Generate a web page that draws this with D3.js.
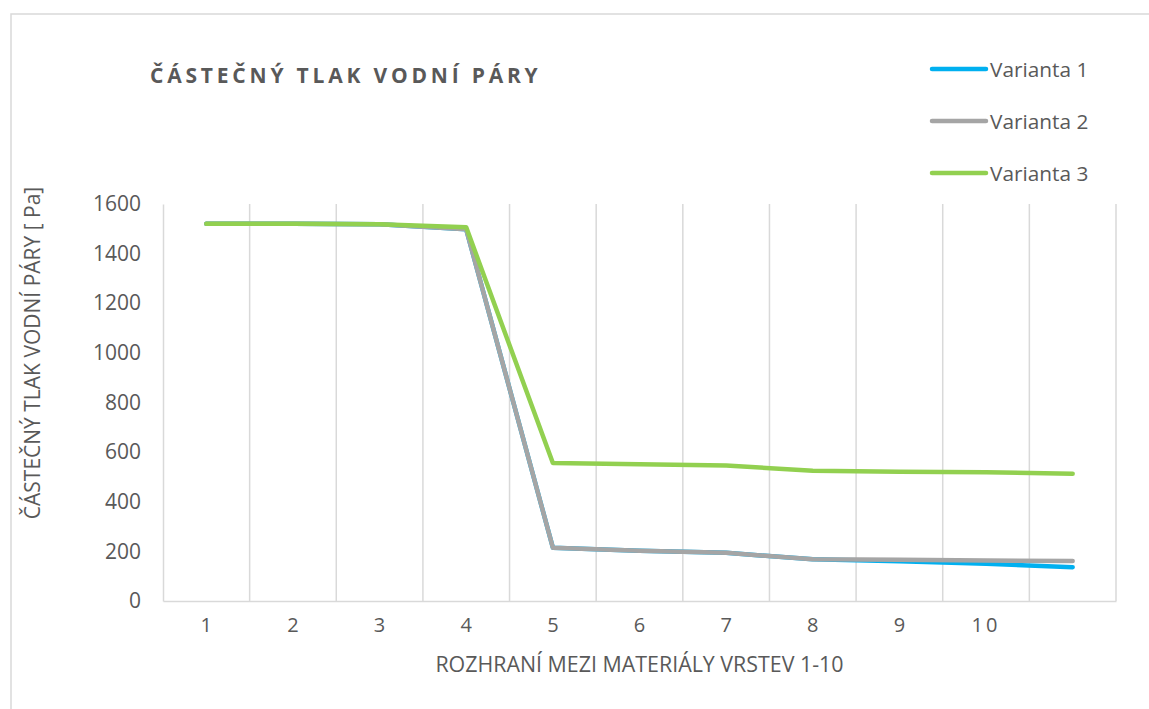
<!DOCTYPE html>
<html lang="cs">
<head>
<meta charset="UTF-8">
<title>Částečný tlak vodní páry</title>
<script src="https://d3js.org/d3.v7.min.js"></script>
<style>
    html, body {
        margin: 0;
        padding: 0;
        background: #fff;
    }
    svg text {
        font-family: "Open Sans", "Noto Sans", sans-serif;
        fill: #595959;
    }
</style>
</head>
<body>
<svg id="chart" width="1149" height="709"></svg>
<script>
    // rozhraní 1-10 + poslední bod bez popisku
    const categories = [1, 2, 3, 4, 5, 6, 7, 8, 9, 10, 11];
    const tickLabels = ["1", "2", "3", "4", "5", "6", "7", "8", "9", "10", ""];
    const yTicks = [0, 200, 400, 600, 800, 1000, 1200, 1400, 1600];

    const varianta1 = [1520, 1520, 1518, 1498, 215, 203, 194, 168, 160, 150, 136];
    const varianta2 = [1520, 1520, 1518, 1498, 215, 203, 194, 168, 166, 163, 161];
    const varianta3 = [1520, 1520, 1518, 1506, 556, 551, 546, 525, 521, 519, 513];

    const seriesNames = ["Varianta 1", "Varianta 2", "Varianta 3"];
    const seriesData = [varianta1, varianta2, varianta3];
    const colors = ["#00B0F0", "#A5A5A5", "#92D050"];

    const svg = d3.select("#chart");
    const plotL = 163, plotR = 1116, plotT = 204, plotB = 601;

    // rámeček grafu
    svg.append("rect")
        .attr("x", 11).attr("y", 14)
        .attr("width", 1300).attr("height", 900)
        .attr("fill", "none")
        .attr("stroke", "#D9D9D9")
        .attr("stroke-width", 1.5);

    const x = d3.scaleBand().domain(categories).range([plotL, plotR]).padding(0);
    const y = d3.scaleLinear().domain([0, 1600]).range([plotB, plotT]);

    // svislé mřížky
    const grid = svg.append("g");
    grid.selectAll("line")
        .data(categories.slice(1))
        .join("line")
        .attr("x1", d => x(d)).attr("x2", d => x(d))
        .attr("y1", plotT).attr("y2", plotB)
        .attr("stroke", "#D9D9D9")
        .attr("stroke-width", 1.5);

    // osa Y (bez čárek)
    const yAxis = svg.append("g")
        .attr("transform", "translate(" + plotL + ",0)")
        .call(d3.axisLeft(y).tickValues(yTicks).tickFormat(d3.format("d")).tickSize(0).tickPadding(22));
    yAxis.select(".domain").attr("stroke", "#D9D9D9").attr("stroke-width", 1.5);
    yAxis.selectAll("text").style("font-size", "21px").attr("fill", "#595959");

    // osa X
    const xAxis = svg.append("g")
        .attr("transform", "translate(0," + plotB + ")")
        .call(d3.axisBottom(x).tickFormat((d, i) => tickLabels[i]).tickSize(0).tickPadding(17));
    xAxis.select(".domain").attr("stroke", "#D9D9D9").attr("stroke-width", 1.5);
    xAxis.selectAll("text").style("font-size", "20px").attr("fill", "#595959")
        .attr("letter-spacing", (d, i) => tickLabels[i].length > 1 ? "3px" : null);

    // svislá hrana vpravo
    svg.append("line")
        .attr("x1", plotR).attr("x2", plotR)
        .attr("y1", plotT).attr("y2", plotB)
        .attr("stroke", "#D9D9D9").attr("stroke-width", 1.5);

    // čáry
    const line = d3.line()
        .x((d, i) => x(categories[i]) + x.bandwidth() / 2)
        .y(d => y(d));

    svg.append("g").selectAll("path")
        .data(seriesData)
        .join("path")
        .attr("d", d => line(d))
        .attr("fill", "none")
        .attr("stroke", (d, i) => colors[i])
        .attr("stroke-width", 4.5)
        .attr("stroke-linecap", "round")
        .attr("stroke-linejoin", "round");

    // titulek
    svg.append("text")
        .attr("x", 150).attr("y", 83)
        .attr("font-weight", "bold")
        .attr("letter-spacing", "3.8px")
        .style("font-size", "21px")
        .text("ČÁSTEČNÝ TLAK VODNÍ PÁRY");

    // popisky os
    svg.append("text")
        .attr("transform", "translate(40,353) rotate(-90)")
        .attr("text-anchor", "middle")
        .style("font-size", "21px")
        .text("ČÁSTEČNÝ TLAK VODNÍ PÁRY [ Pa]");

    svg.append("text")
        .attr("x", (plotL + plotR) / 2).attr("y", 672)
        .attr("text-anchor", "middle")
        .style("font-size", "21.4px")
        .text("ROZHRANÍ MEZI MATERIÁLY VRSTEV 1-10");

    // legenda
    const legend = svg.append("g").selectAll("g")
        .data(seriesNames)
        .join("g")
        .attr("transform", (d, i) => "translate(932," + (69 + i * 52) + ")");
    legend.append("line")
        .attr("x1", 0).attr("x2", 54)
        .attr("stroke", (d, i) => colors[i])
        .attr("stroke-width", 4.5)
        .attr("stroke-linecap", "round");
    legend.append("text")
        .attr("x", 58).attr("y", 8)
        .style("font-size", "20.8px")
        .text(d => d);
</script>
</body>
</html>
